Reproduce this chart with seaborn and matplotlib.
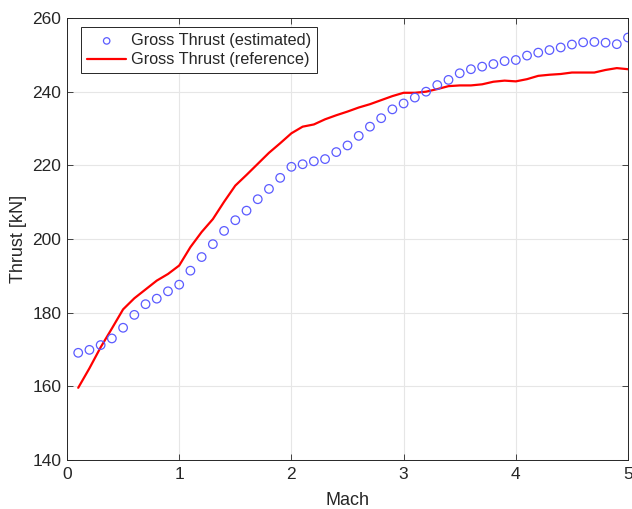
import numpy as np
import pandas as pd
import matplotlib
matplotlib.use("Agg")
import matplotlib.pyplot as plt
import seaborn as sns

mach = [round(0.1 * i, 1) for i in range(1, 51)]

thrust_estimated = [
    169.1, 169.9, 171.2, 173.0, 175.9, 179.4, 182.3, 183.8, 185.8, 187.6,
    191.4, 195.1, 198.6, 202.2, 205.1, 207.7, 210.8, 213.6, 216.6, 219.6,
    220.3, 221.1, 221.7, 223.6, 225.4, 228.0, 230.5, 232.8, 235.2, 236.8,
    238.4, 240.0, 241.8, 243.2, 245.0, 246.1, 246.8, 247.5, 248.3, 248.6,
    249.8, 250.6, 251.3, 252.0, 252.8, 253.4, 253.5, 253.3, 252.9, 254.7,
]

thrust_reference = [
    159.6, 164.9, 170.6, 175.7, 180.9, 183.9, 186.3, 188.7, 190.5, 192.8,
    197.8, 201.9, 205.4, 210.1, 214.5, 217.4, 220.4, 223.4, 226.0, 228.7,
    230.5, 231.1, 232.5, 233.6, 234.6, 235.7, 236.6, 237.7, 238.8, 239.7,
    239.7, 240.0, 240.7, 241.5, 241.7, 241.7, 242.0, 242.7, 243.0, 242.8,
    243.4, 244.3, 244.6, 244.8, 245.2, 245.2, 245.2, 245.9, 246.4, 246.1,
]

x_ticks = [0, 1, 2, 3, 4, 5]
y_ticks = [140, 160, 180, 200, 220, 240, 260]

df = pd.DataFrame({
    "Mach": mach,
    "estimated": thrust_estimated,
    "reference": thrust_reference,
})

sns.set_theme(style="whitegrid")
plt.rcParams["font.family"] = ["Liberation Sans", "DejaVu Sans"]

fig = plt.figure(figsize=(6.32, 5.09), dpi=100)
ax = fig.add_axes([0.106, 0.0963, 0.8877, 0.8683])

sns.scatterplot(data=df, x="Mach", y="estimated", ax=ax, marker="o",
                s=38, facecolors="none", edgecolor="#5b5bff", linewidth=0.9,
                label="Gross Thrust (estimated)", zorder=3)
sns.lineplot(data=df, x="Mach", y="reference", ax=ax, color="#ff0000",
             linewidth=1.6, label="Gross Thrust (reference)", zorder=2)

ax.set_xlim(0, 5)
ax.set_ylim(140, 260)
ax.set_xticks(x_ticks)
ax.set_yticks(y_ticks)
ax.set_xlabel("Mach", fontsize=13, color="#262626", labelpad=7)
ax.set_ylabel("Thrust [kN]", fontsize=13, color="#262626", labelpad=4)
ax.tick_params(axis="both", which="both", direction="in", length=4,
               width=0.6, colors="#262626", labelsize=12.5,
               top=True, right=True, bottom=True, left=True)
ax.tick_params(axis="x", pad=5)
ax.tick_params(axis="y", pad=4)
ax.grid(True, color="#e6e6e6", linewidth=0.8)
ax.set_facecolor("white")
for side in ax.spines.values():
    side.set_color("#262626")
    side.set_linewidth(0.7)
    side.set_visible(True)

leg = ax.legend(loc="upper left", bbox_to_anchor=(81 / 632, 1 - 27 / 509),
                bbox_transform=fig.transFigure, borderaxespad=0,
                fontsize=11.7, frameon=True, fancybox=False,
                edgecolor="#262626", framealpha=1, borderpad=0.38,
                handlelength=2.4, handletextpad=0.3, labelspacing=0.25,
                markerscale=0.75)
leg.get_frame().set_linewidth(0.7)

fig.savefig("out.png", dpi=100, facecolor="white")
